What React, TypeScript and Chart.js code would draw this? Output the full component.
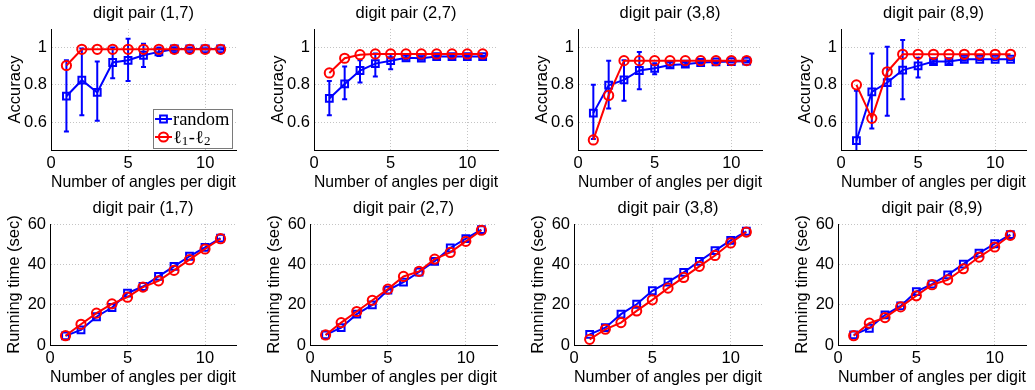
import React, { useEffect, useRef } from 'react';
import { Chart, registerables } from 'chart.js';

Chart.register(...registerables);

// ---------- data ----------
const angles = [1, 2, 3, 4, 5, 6, 7, 8, 9, 10, 11];
const xTicks = [0, 5, 10];
const accTicks = [0.6, 0.8, 1];
const timeTicks = [0, 20, 40, 60];
const pairTitles = ['digit pair (1,7)', 'digit pair (2,7)', 'digit pair (3,8)', 'digit pair (8,9)'];
const seriesLabels = ['random', 'ℓ₁-ℓ₂'];
const xTitle = 'Number of angles per digit';
const accTitle = 'Accuracy';
const timeTitle = 'Running time (sec)';

// accuracy, pair (1,7)
const acc17Random = [0.739, 0.825, 0.759, 0.92, 0.932, 0.959, 0.977, 0.993, 0.993, 0.993, 0.993];
const acc17RandomLo = [0.55, 0.637, 0.607, 0.836, 0.82, 0.896, 0.955, 0.985, 0.988, 0.99, 0.99];
const acc17RandomHi = [0.932, 0.995, 0.925, 1.0, 1.048, 1.021, 1.0, 1.0, 0.998, 0.996, 0.996];
const acc17L1L2 = [0.904, 0.991, 0.991, 0.991, 0.991, 0.991, 0.991, 0.991, 0.991, 0.991, 0.991];

// accuracy, pair (2,7)
const acc27Random = [0.727, 0.805, 0.877, 0.914, 0.93, 0.945, 0.943, 0.952, 0.952, 0.952, 0.952];
const acc27RandomLo = [0.637, 0.723, 0.812, 0.845, 0.884, 0.935, 0.935, 0.945, 0.947, 0.948, 0.948];
const acc27RandomHi = [0.82, 0.898, 0.932, 0.968, 0.964, 0.956, 0.952, 0.959, 0.957, 0.956, 0.956];
const acc27L1L2 = [0.864, 0.943, 0.962, 0.966, 0.966, 0.966, 0.966, 0.966, 0.966, 0.966, 0.966];

// accuracy, pair (3,8)
const acc38Random = [0.648, 0.798, 0.827, 0.877, 0.889, 0.907, 0.911, 0.92, 0.923, 0.925, 0.927];
const acc38RandomLo = [0.509, 0.673, 0.714, 0.777, 0.857, 0.895, 0.9, 0.912, 0.917, 0.92, 0.923];
const acc38RandomHi = [0.8, 0.929, 0.932, 0.977, 0.916, 0.92, 0.922, 0.928, 0.929, 0.93, 0.931];
const acc38L1L2 = [0.504, 0.743, 0.93, 0.93, 0.93, 0.93, 0.93, 0.93, 0.93, 0.93, 0.93];

// accuracy, pair (8,9)
const acc89Random = [0.5, 0.762, 0.8125, 0.879, 0.902, 0.925, 0.925, 0.9375, 0.9375, 0.9375, 0.9375];
const acc89RandomLo = [0.232, 0.566, 0.634, 0.723, 0.839, 0.915, 0.915, 0.93, 0.932, 0.932, 0.932];
const acc89RandomHi = [0.768, 0.968, 1.005, 1.041, 0.946, 0.935, 0.935, 0.945, 0.943, 0.943, 0.943];
const acc89L1L2 = [0.8, 0.62, 0.87, 0.964, 0.964, 0.964, 0.964, 0.964, 0.964, 0.964, 0.964];

// running time (sec)
const time17Random = [4.5, 7.5, 14, 18.6, 25.7, 29, 34, 39, 44, 48.4, 53];
const time17L1L2 = [4.6, 10.3, 15.8, 20.4, 23.7, 28.7, 31.8, 37, 42.3, 47.6, 52.7];
const time27Random = [5, 8.6, 15.3, 19.9, 27.2, 31.2, 36.2, 41.5, 48.1, 52.7, 57.2];
const time27L1L2 = [5, 11.1, 16.6, 22.2, 27.7, 34, 36.5, 42.6, 45.9, 51.4, 56.9];
const time38Random = [5.3, 8.6, 15.3, 20.2, 26.9, 31.2, 36, 41.5, 46.8, 51.9, 56.4];
const time38L1L2 = [2.8, 7.8, 11.1, 16.9, 22.4, 28.2, 33.5, 39, 44.4, 50.6, 56];
const time89Random = [5, 8.3, 14.9, 19.4, 26.5, 30.2, 34.8, 40.1, 45.6, 50.2, 54.7];
const time89L1L2 = [4.6, 10.8, 13.6, 18.9, 24.4, 29.9, 32.3, 37.8, 43.6, 48.6, 54.4];

// ---------- styling / layout ----------
const FONT = "'Liberation Sans', Arial, Helvetica, sans-serif";
const FS = 16.5;
const BLUE = '#0000ff';
const RED = '#ff0000';
const YAXIS_W = 51;
const RIGHT_PAD = 9;
const ROW_H = 195;
const SERIF = "'Liberation Serif', 'DejaVu Serif', serif";
const SUBS = '₀₁₂₃₄₅₆₇₈₉';

type PanelSpec = {
  left: number;
  top: number;
  plotW: number;
  title: string;
  yTitle: string;
  yMin: number;
  yMax: number;
  yTicks: number[];
  blue: number[];
  blueLo?: number[];
  blueHi?: number[];
  red: number[];
  legend?: boolean;
};

const panels: PanelSpec[] = [
  { left: 51, top: 0, plotW: 185, title: pairTitles[0], yTitle: accTitle, yMin: 0.45, yMax: 1.1, yTicks: accTicks, blue: acc17Random, blueLo: acc17RandomLo, blueHi: acc17RandomHi, red: acc17L1L2, legend: true },
  { left: 314, top: 0, plotW: 184, title: pairTitles[1], yTitle: accTitle, yMin: 0.45, yMax: 1.1, yTicks: accTicks, blue: acc27Random, blueLo: acc27RandomLo, blueHi: acc27RandomHi, red: acc27L1L2 },
  { left: 578, top: 0, plotW: 184, title: pairTitles[2], yTitle: accTitle, yMin: 0.45, yMax: 1.1, yTicks: accTicks, blue: acc38Random, blueLo: acc38RandomLo, blueHi: acc38RandomHi, red: acc38L1L2 },
  { left: 841, top: 0, plotW: 185, title: pairTitles[3], yTitle: accTitle, yMin: 0.45, yMax: 1.1, yTicks: accTicks, blue: acc89Random, blueLo: acc89RandomLo, blueHi: acc89RandomHi, red: acc89L1L2 },
  { left: 50, top: 195, plotW: 186, title: pairTitles[0], yTitle: timeTitle, yMin: 0, yMax: 60, yTicks: timeTicks, blue: time17Random, red: time17L1L2 },
  { left: 310, top: 195, plotW: 187, title: pairTitles[1], yTitle: timeTitle, yMin: 0, yMax: 60, yTicks: timeTicks, blue: time27Random, red: time27L1L2 },
  { left: 574, top: 195, plotW: 188, title: pairTitles[2], yTitle: timeTitle, yMin: 0, yMax: 60, yTicks: timeTicks, blue: time38Random, red: time38L1L2 },
  { left: 838, top: 195, plotW: 188, title: pairTitles[3], yTitle: timeTitle, yMin: 0, yMax: 60, yTicks: timeTicks, blue: time89Random, red: time89L1L2 },
];

const errorBarPlugin = {
  id: 'errorBarsCustom',
  afterDatasetDraw(chart: any, args: any) {
    const ds = chart.data.datasets[args.index];
    if (!ds.errLo || !ds.errHi) return;
    const { ctx, chartArea } = chart;
    const xs = chart.scales.x;
    const ys = chart.scales.y;
    ctx.save();
    ctx.beginPath();
    ctx.rect(chartArea.left, chartArea.top, chartArea.right - chartArea.left, chartArea.bottom - chartArea.top);
    ctx.clip();
    ctx.strokeStyle = ds.borderColor;
    ctx.lineWidth = 2;
    ctx.lineCap = 'butt';
    ds.errLo.forEach((lo: number, i: number) => {
      const px = xs.getPixelForValue(ds.data[i].x);
      const pLo = ys.getPixelForValue(lo);
      const pHi = ys.getPixelForValue(ds.errHi[i]);
      const c = 2.5;
      ctx.beginPath();
      ctx.moveTo(px, pLo);
      ctx.lineTo(px, pHi);
      ctx.moveTo(px - c, pLo);
      ctx.lineTo(px + c, pLo);
      ctx.moveTo(px - c, pHi);
      ctx.lineTo(px + c, pHi);
      ctx.stroke();
    });
    ctx.restore();
  },
};

// draws a label, rendering Unicode subscript digits as smaller lowered digits
function drawRichLabel(ctx: CanvasRenderingContext2D, text: string, x: number, y: number) {
  let cx = x;
  const big = `18.5px ${SERIF}`;
  const small = `13px ${SERIF}`;
  for (const ch of Array.from(text)) {
    const si = SUBS.indexOf(ch);
    if (si >= 0) {
      ctx.font = small;
      const d = String(si);
      ctx.fillText(d, cx, y + 4);
      cx += ctx.measureText(d).width + 0.5;
    } else {
      ctx.font = big;
      ctx.fillText(ch, cx, y);
      cx += ctx.measureText(ch).width;
    }
  }
}

function makeLegendPlugin(show: boolean) {
  return {
    id: 'panelLegend',
    afterDraw(chart: any) {
      if (!show) return;
      const { ctx, chartArea } = chart;
      const bw = 79;
      const bh = 39;
      const bx = Math.round(chartArea.right - 4 - bw);
      const by = Math.round(chartArea.bottom - 2 - bh);
      ctx.save();
      ctx.fillStyle = '#ffffff';
      ctx.fillRect(bx, by, bw, bh);
      ctx.strokeStyle = '#7a7a7a';
      ctx.lineWidth = 1;
      ctx.strokeRect(bx + 0.5, by + 0.5, bw, bh);
      [0, 1].forEach((j) => {
        const ds = chart.data.datasets[j];
        const yRow = by + 10 + j * 18;
        const lx0 = bx + 2;
        const lx1 = bx + 19;
        const mx = (lx0 + lx1) / 2;
        ctx.strokeStyle = ds.borderColor;
        ctx.lineWidth = 2;
        ctx.beginPath();
        ctx.moveTo(lx0, yRow);
        ctx.lineTo(lx1, yRow);
        ctx.stroke();
        ctx.beginPath();
        if (ds.pointStyle === 'rect') {
          const s = ds.pointRadius * Math.SQRT1_2;
          ctx.rect(mx - s, yRow - s, 2 * s, 2 * s);
        } else {
          ctx.arc(mx, yRow, ds.pointRadius, 0, Math.PI * 2);
        }
        ctx.stroke();
        ctx.fillStyle = '#000';
        ctx.textBaseline = 'middle';
        ctx.textAlign = 'left';
        drawRichLabel(ctx, ds.label, bx + 20, yRow + 1);
      });
      ctx.restore();
    },
  };
}

function Panel({ spec }: { spec: PanelSpec }) {
  const ref = useRef<HTMLCanvasElement | null>(null);
  const width = YAXIS_W + spec.plotW + RIGHT_PAD;

  useEffect(() => {
    if (!ref.current) return;
    const font = { family: FONT, size: FS };
    const blueDs: any = {
      label: seriesLabels[0],
      data: angles.map((a, i) => ({ x: a, y: spec.blue[i] })),
      borderColor: BLUE,
      backgroundColor: BLUE,
      borderWidth: 2,
      pointStyle: 'rect',
      pointRadius: 4.8,
      pointBorderWidth: 2,
      pointBackgroundColor: 'rgba(0,0,0,0)',
      pointBorderColor: BLUE,
      tension: 0,
      order: 1,
    };
    if (spec.blueLo && spec.blueHi) {
      blueDs.errLo = spec.blueLo;
      blueDs.errHi = spec.blueHi;
    }
    const redDs: any = {
      label: seriesLabels[1],
      data: angles.map((a, i) => ({ x: a, y: spec.red[i] })),
      borderColor: RED,
      backgroundColor: RED,
      borderWidth: 2,
      pointStyle: 'circle',
      pointRadius: 4.6,
      pointBorderWidth: 2,
      pointBackgroundColor: 'rgba(0,0,0,0)',
      pointBorderColor: RED,
      tension: 0,
      order: 0,
    };
    const chart = new Chart(ref.current, {
      type: 'line',
      data: { datasets: [blueDs, redDs] },
      options: {
        responsive: false,
        animation: false,
        devicePixelRatio: 1,
        layout: { padding: { left: 0, right: RIGHT_PAD, top: 0, bottom: 0 } },
        plugins: {
          legend: { display: false },
          tooltip: { enabled: false },
          title: {
            display: true,
            text: spec.title,
            color: '#000',
            font: { family: FONT, size: FS, weight: 'normal' },
            padding: { top: 3.1, bottom: 6.1 },
            fullSize: false,
          },
        },
        scales: {
          x: {
            type: 'linear',
            min: 0,
            max: 12,
            afterBuildTicks: (s: any) => {
              s.ticks = xTicks.map((v) => ({ value: v }));
            },
            afterFit: (s: any) => {
              s.height = 45;
            },
            grid: { color: '#c4c4c4', lineWidth: 1, drawTicks: false },
            border: { display: true, color: '#000', width: 1, dash: [1, 2] },
            ticks: { font, color: '#000', padding: 4, maxRotation: 0, autoSkip: false, callback: (v: any) => String(v) },
            title: { display: true, text: xTitle, color: '#000', font, padding: { top: 0, bottom: 3.1 } },
          },
          y: {
            type: 'linear',
            min: spec.yMin,
            max: spec.yMax,
            afterBuildTicks: (s: any) => {
              s.ticks = spec.yTicks.map((v) => ({ value: v }));
            },
            afterFit: (s: any) => {
              s.width = YAXIS_W;
            },
            grid: { color: '#c4c4c4', lineWidth: 1, drawTicks: false },
            border: { display: true, color: '#000', width: 1, dash: [1, 2] },
            ticks: { font, color: '#000', padding: 4, autoSkip: false, callback: (v: any) => String(v) },
            title: { display: true, text: spec.yTitle, color: '#000', font, padding: { top: 5.6, bottom: 0 } },
          },
        },
      } as any,
      plugins: [errorBarPlugin, makeLegendPlugin(!!spec.legend)],
    });
    return () => chart.destroy();
  }, [spec]);

  return (
    <canvas
      ref={ref}
      width={width}
      height={ROW_H}
      style={{ position: 'absolute', left: spec.left - YAXIS_W, top: spec.top, width, height: ROW_H, display: 'block' }}
    />
  );
}

export default function App() {
  return (
    <div style={{ position: 'absolute', left: 0, top: 0, width: 1035, height: 390, background: '#fff', overflow: 'hidden' }}>
      {panels.map((p, i) => (
        <Panel key={i} spec={p} />
      ))}
    </div>
  );
}
